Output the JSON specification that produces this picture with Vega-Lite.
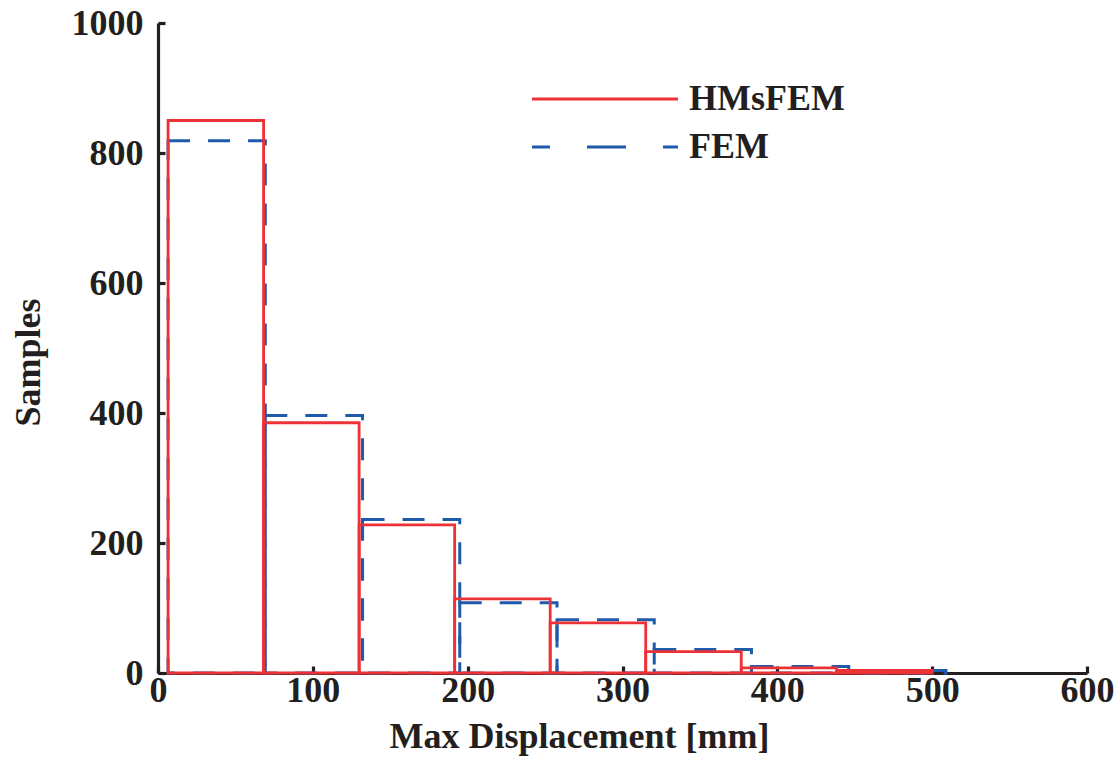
{
  "$schema": "https://vega.github.io/schema/vega-lite/v6.json",
  "width": 929,
  "height": 650,
  "autosize": {"type": "none"},
  "padding": {"left": 158, "top": 23, "right": 30, "bottom": 88},
  "background": "white",
  "data": {
    "values": [
      {"model": "FEM", "start": 6.5, "end": 69.3, "count": 819},
      {"model": "FEM", "start": 69.3, "end": 132.1, "count": 396},
      {"model": "FEM", "start": 132.1, "end": 194.9, "count": 236},
      {"model": "FEM", "start": 194.9, "end": 257.7, "count": 108},
      {"model": "FEM", "start": 257.7, "end": 320.5, "count": 82},
      {"model": "FEM", "start": 320.5, "end": 383.3, "count": 36},
      {"model": "FEM", "start": 383.3, "end": 446.1, "count": 10},
      {"model": "FEM", "start": 446.1, "end": 508.9, "count": 4},
      {"model": "HMsFEM", "start": 6.5, "end": 68.2, "count": 850},
      {"model": "HMsFEM", "start": 68.2, "end": 129.9, "count": 385},
      {"model": "HMsFEM", "start": 129.9, "end": 191.6, "count": 228},
      {"model": "HMsFEM", "start": 191.6, "end": 253.3, "count": 114},
      {"model": "HMsFEM", "start": 253.3, "end": 315, "count": 77},
      {"model": "HMsFEM", "start": 315, "end": 376.7, "count": 33},
      {"model": "HMsFEM", "start": 376.7, "end": 438.4, "count": 8},
      {"model": "HMsFEM", "start": 438.4, "end": 500.1, "count": 4}
    ]
  },
  "encoding": {
    "x": {
      "field": "start",
      "type": "quantitative",
      "scale": {"domain": [0, 600], "nice": false, "zero": false},
      "axis": {
        "values": [0, 100, 200, 300, 400, 500, 600],
        "title": "Max Displacement [mm]",
        "labelFlush": false,
        "labelOverlap": false,
        "labelPadding": 7,
        "titleX": 421,
        "titleY": 74,
        "titleAlign": "center",
        "titleBaseline": "alphabetic"
      }
    },
    "x2": {"field": "end"},
    "y": {
      "field": "count",
      "type": "quantitative",
      "scale": {"domain": [0, 1000], "nice": false},
      "axis": {
        "values": [0, 200, 400, 600, 800, 1000],
        "format": "d",
        "title": "Samples",
        "labelFlush": false,
        "labelOverlap": false,
        "labelPadding": 22,
        "titleX": -119,
        "titleY": 339,
        "titleAngle": 270,
        "titleAlign": "center",
        "titleBaseline": "alphabetic"
      }
    },
    "y2": {"datum": 0},
    "color": {
      "field": "model",
      "type": "nominal",
      "scale": {"domain": ["HMsFEM", "FEM"], "range": ["#ED3237", "#1F5BAA"]},
      "legend": {
        "title": null,
        "orient": "none",
        "legendX": 429,
        "legendY": 58,
        "padding": 0,
        "symbolType": "M-5,0H5",
        "symbolSize": 853,
        "symbolStrokeWidth": 3,
        "labelOffset": 66,
        "rowPadding": 12,
        "labelFont": "Liberation Serif",
        "labelFontSize": 36,
        "labelFontWeight": "bold",
        "labelColor": "#231F20",
        "encode": {
          "symbols": {
            "update": {
              "strokeDash": {"signal": "datum.value === 'FEM' ? [39, 37] : [1, 0]"},
              "strokeDashOffset": {"value": 21},
              "fill": {"value": "transparent"}
            }
          }
        }
      }
    }
  },
  "layer": [
    {
      "transform": [{"filter": "datum.model === 'FEM'"}],
      "mark": {"type": "rect", "filled": false, "strokeWidth": 3, "strokeDash": [22, 18]}
    },
    {
      "transform": [{"filter": "datum.model === 'HMsFEM'"}],
      "mark": {"type": "rect", "filled": false, "strokeWidth": 2.8}
    }
  ],
  "config": {
    "view": {"stroke": null},
    "axis": {
      "grid": false,
      "domainColor": "#231F20",
      "domainWidth": 3.2,
      "tickColor": "#231F20",
      "tickWidth": 3.2,
      "tickSize": -7,
      "labelFont": "Liberation Serif",
      "labelFontSize": 36,
      "labelFontWeight": "bold",
      "labelColor": "#231F20",
      "titleFont": "Liberation Serif",
      "titleFontSize": 36,
      "titleFontWeight": "bold",
      "titleColor": "#231F20"
    }
  }
}
